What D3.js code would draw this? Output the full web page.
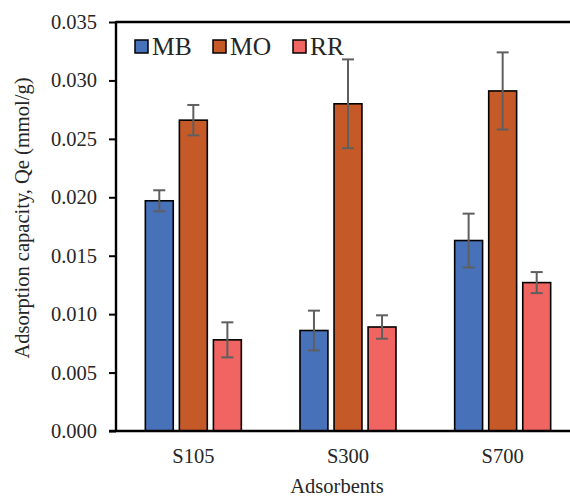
<!DOCTYPE html>
<html>
<head>
<meta charset="utf-8">
<script src="https://cdn.jsdelivr.net/npm/d3@7"></script>
<style>
  body { margin: 0; background: #fff; }
  text { font-family: "Liberation Serif", "Times New Roman", serif; fill: #262626; }
</style>
</head>
<body>
<svg id="chart" width="570" height="496"></svg>
<script>
const categories = ['S105', 'S300', 'S700'];
const seriesNames = ['MB', 'MO', 'RR'];
const mbValues = [0.0197, 0.0086, 0.0163];
const moValues = [0.0266, 0.0280, 0.0291];
const rrValues = [0.0078, 0.0089, 0.0127];
const mbErrors = [0.0009, 0.0017, 0.0023];
const moErrors = [0.0013, 0.0038, 0.0033];
const rrErrors = [0.0015, 0.0010, 0.0009];
const yTicks = [0, 0.005, 0.010, 0.015, 0.020, 0.025, 0.030, 0.035];

const COLORS = ['#4771b9', '#c55a28', '#f06462'];

const values = [mbValues, moValues, rrValues];
const errors = [mbErrors, moErrors, rrErrors];

const margin = { top: 22, left: 116, bottom: 65 };
const plotRight = 580;
const height = 496 - margin.top - margin.bottom;

const svg = d3.select('#chart');

const x = d3.scaleBand()
  .domain(categories)
  .range([margin.left, plotRight])
  .paddingInner(0)
  .paddingOuter(0);

const xInner = d3.scaleBand()
  .domain(seriesNames)
  .range([0, 96])
  .paddingInner(0.18);

const y = d3.scaleLinear()
  .domain([0, 0.035])
  .range([margin.top + height, margin.top]);

// bars
const rows = [];
categories.forEach((c, i) => {
  seriesNames.forEach((s, j) => {
    rows.push({ cat: c, series: s, value: values[j][i], err: errors[j][i], color: COLORS[j] });
  });
});

const groupOffset = (x.bandwidth() - 96) / 2;

svg.append('g')
  .selectAll('rect')
  .data(rows)
  .enter()
  .append('rect')
  .attr('x', d => x(d.cat) + groupOffset + xInner(d.series))
  .attr('y', d => y(d.value))
  .attr('width', xInner.bandwidth())
  .attr('height', d => y(0) - y(d.value))
  .attr('fill', d => d.color)
  .attr('stroke', '#000')
  .attr('stroke-width', 1.6);

// error bars
const eb = svg.append('g').attr('stroke', '#5f5f5f').attr('stroke-width', 2);
rows.forEach(d => {
  const cx = x(d.cat) + groupOffset + xInner(d.series) + xInner.bandwidth() / 2;
  const top = y(d.value + d.err);
  const bot = y(d.value - d.err);
  eb.append('line').attr('x1', cx).attr('x2', cx).attr('y1', top).attr('y2', bot);
  eb.append('line').attr('x1', cx - 6).attr('x2', cx + 6).attr('y1', top).attr('y2', top);
  eb.append('line').attr('x1', cx - 6).attr('x2', cx + 6).attr('y1', bot).attr('y2', bot);
});

// y axis
const yAxis = svg.append('g')
  .attr('transform', `translate(${margin.left},0)`)
  .call(d3.axisLeft(y).tickValues(yTicks).tickFormat(d3.format('.3f')).tickSize(7).tickPadding(12));
yAxis.select('.domain').remove();
yAxis.selectAll('.tick line').attr('stroke', '#000').attr('stroke-width', 2);
yAxis.selectAll('.tick text').style('font-size', '20.5px').attr('fill', '#262626');

// x axis labels
const xAxis = svg.append('g')
  .attr('transform', `translate(0,${y(0)})`)
  .call(d3.axisBottom(x).tickSize(0).tickPadding(17));
xAxis.select('.domain').remove();
xAxis.selectAll('.tick text').style('font-size', '20.5px').attr('fill', '#262626');

// frame lines
svg.append('line').attr('x1', margin.left).attr('x2', margin.left)
  .attr('y1', margin.top - 1).attr('y2', y(0) + 1).attr('stroke', '#000').attr('stroke-width', 2.4);
svg.append('line').attr('x1', margin.left - 7).attr('x2', plotRight)
  .attr('y1', y(0)).attr('y2', y(0)).attr('stroke', '#000').attr('stroke-width', 2.4);
svg.append('line').attr('x1', margin.left).attr('x2', plotRight)
  .attr('y1', margin.top).attr('y2', margin.top).attr('stroke', '#000').attr('stroke-width', 2.4);

// titles
svg.append('text')
  .attr('transform', `translate(29,218) rotate(-90)`)
  .attr('text-anchor', 'middle')
  .style('font-size', '20.5px')
  .text('Adsorption capacity, Qe (mmol/g)');

svg.append('text')
  .attr('x', 337)
  .attr('y', 493)
  .attr('text-anchor', 'middle')
  .style('font-size', '20.5px')
  .text('Adsorbents');

// legend
const legendX = [135, 213, 293];
const legend = svg.append('g');
seriesNames.forEach((s, i) => {
  legend.append('rect')
    .attr('x', legendX[i]).attr('y', 40)
    .attr('width', 13).attr('height', 13)
    .attr('fill', COLORS[i]).attr('stroke', '#000').attr('stroke-width', 1.5);
  legend.append('text')
    .attr('x', legendX[i] + 17).attr('y', 55)
    .style('font-size', '25.5px')
    .text(s);
});
</script>
</body>
</html>
